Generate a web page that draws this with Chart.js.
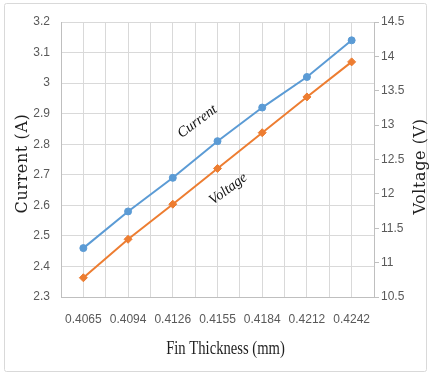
<!DOCTYPE html>
<html>
<head>
<meta charset="utf-8">
<script src="https://cdn.jsdelivr.net/npm/chart.js@4.4.1/dist/chart.umd.min.js"></script>
<style>
  html, body { margin: 0; padding: 0; background: #ffffff; }
  #wrap { width: 431px; height: 374px; position: relative; }
</style>
</head>
<body>
<div id="wrap"><canvas id="chart" width="431" height="374"></canvas></div>
<script>
// Fin thickness (mm) categories
const thickness = ['0.4065', '0.4094', '0.4126', '0.4155', '0.4184', '0.4212', '0.4242'];
// Current (A), left axis
const current = [2.46, 2.58, 2.69, 2.81, 2.92, 3.02, 3.14];
// Voltage (V), right axis
const voltage = [10.78, 11.34, 11.85, 12.37, 12.89, 13.41, 13.92];
// Axis tick values
const currentTicks = [2.3, 2.4, 2.5, 2.6, 2.7, 2.8, 2.9, 3.0, 3.1, 3.2];
const voltageTicks = [10.5, 11, 11.5, 12, 12.5, 13, 13.5, 14, 14.5];

const BLUE = '#5B9BD5';
const ORANGE = '#ED7D31';
const GRID = '#d9d9d9';
const AXIS = '#bfbfbf';
const TICK_FONT = { family: '"Liberation Sans Narrow", "Liberation Sans", Arial, sans-serif', size: 12 };

// In-chart series labels, anchored in axis units
const seriesLabels = [
  { text: 'Current', at: 2.55, value: 2.874, axis: 'y' },
  { text: 'Voltage', at: 3.24, value: 12.07, axis: 'y2' }
];

const decorations = {
  id: 'decorations',
  beforeDraw(chart) {
    const ctx = chart.ctx;
    ctx.save();
    ctx.fillStyle = '#ffffff';
    ctx.fillRect(0, 0, chart.width, chart.height);
    ctx.strokeStyle = '#d9d9d9';
    ctx.lineWidth = 1;
    ctx.beginPath();
    ctx.roundRect(4.5, 3.5, 422, 368, 2);
    ctx.stroke();
    ctx.restore();
  },
  afterDraw(chart) {
    const ctx = chart.ctx;
    const area = chart.chartArea;
    const midY = (area.top + area.bottom) / 2 + 4;
    ctx.save();
    ctx.fillStyle = '#1f1f1f';
    ctx.textAlign = 'center';
    ctx.textBaseline = 'middle';

    // Left axis title
    ctx.font = '16px "DejaVu Serif", serif';
    ctx.letterSpacing = '0.6px';
    ctx.save();
    ctx.translate(23, midY);
    ctx.rotate(-Math.PI / 2);
    ctx.fillText('Current (A)', 0, 0);
    ctx.restore();

    // Right axis title
    ctx.save();
    ctx.translate(421, midY + 3);
    ctx.rotate(-Math.PI / 2);
    ctx.fillText('Voltage (V)', 0, 0);
    ctx.restore();
    ctx.letterSpacing = '0px';

    // Bottom axis title
    ctx.font = '19px "Liberation Serif", "Times New Roman", serif';
    ctx.save();
    ctx.translate((area.left + area.right) / 2 + 8, 349);
    ctx.scale(0.77, 1);
    ctx.fillText('Fin Thickness (mm)', 0, 0);
    ctx.restore();

    // Series labels along the lines
    ctx.font = 'italic 14.5px "Liberation Serif", "Times New Roman", serif';
    ctx.fillStyle = '#111111';
    seriesLabels.forEach(l => {
      const px = chart.scales.x.getPixelForValue(l.at);
      const py = chart.scales[l.axis].getPixelForValue(l.value);
      ctx.save();
      ctx.translate(px, py);
      ctx.rotate(-0.64);
      ctx.fillText(l.text, 0, 0);
      ctx.restore();
    });
    ctx.restore();
  }
};

new Chart(document.getElementById('chart'), {
  type: 'line',
  data: {
    labels: thickness,
    datasets: [
      {
        label: 'Current',
        data: current,
        yAxisID: 'y',
        xAxisID: 'x',
        borderColor: BLUE,
        backgroundColor: BLUE,
        borderWidth: 2,
        pointStyle: 'circle',
        pointRadius: 3.5,
        pointBorderWidth: 1,
        tension: 0
      },
      {
        label: 'Voltage',
        data: voltage,
        yAxisID: 'y2',
        xAxisID: 'x',
        borderColor: ORANGE,
        backgroundColor: ORANGE,
        borderWidth: 2,
        pointStyle: 'rectRot',
        pointRadius: 4,
        pointBorderWidth: 1,
        tension: 0
      }
    ]
  },
  options: {
    responsive: false,
    animation: false,
    devicePixelRatio: 1,
    layout: { padding: { top: 22, left: 0, right: 0, bottom: 0 } },
    plugins: {
      legend: { display: false },
      tooltip: { enabled: false }
    },
    scales: {
      x: {
        type: 'category',
        position: 'bottom',
        offset: true,
        grid: { color: GRID, offset: true, drawTicks: false },
        border: { color: AXIS },
        ticks: { color: '#595959', font: TICK_FONT, padding: 15, maxRotation: 0, autoSkip: false },
        afterFit(scale) { scale.height = 77; }
      },
      x2: {
        type: 'category',
        position: 'top',
        offset: true,
        grid: { color: GRID, offset: false, drawTicks: false },
        border: { display: false },
        ticks: { display: false },
        afterFit(scale) { scale.height = 0; }
      },
      y: {
        position: 'left',
        min: 2.3,
        max: 3.2,
        grid: { color: GRID, drawTicks: false },
        border: { color: AXIS },
        ticks: {
          color: '#595959',
          font: TICK_FONT,
          padding: 11,
          callback: v => String(Number(v.toFixed(1)))
        },
        afterBuildTicks(scale) { scale.ticks = currentTicks.map(v => ({ value: v })); },
        afterFit(scale) { scale.width = 61; }
      },
      y2: {
        position: 'right',
        min: 10.5,
        max: 14.5,
        grid: { drawOnChartArea: false, color: AXIS, tickLength: 5 },
        border: { color: AXIS },
        ticks: {
          color: '#595959',
          font: TICK_FONT,
          padding: 2,
          callback: v => String(Number(v.toFixed(1)))
        },
        afterBuildTicks(scale) { scale.ticks = voltageTicks.map(v => ({ value: v })); },
        afterFit(scale) { scale.width = 57; }
      }
    }
  },
  plugins: [decorations]
});
</script>
</body>
</html>
